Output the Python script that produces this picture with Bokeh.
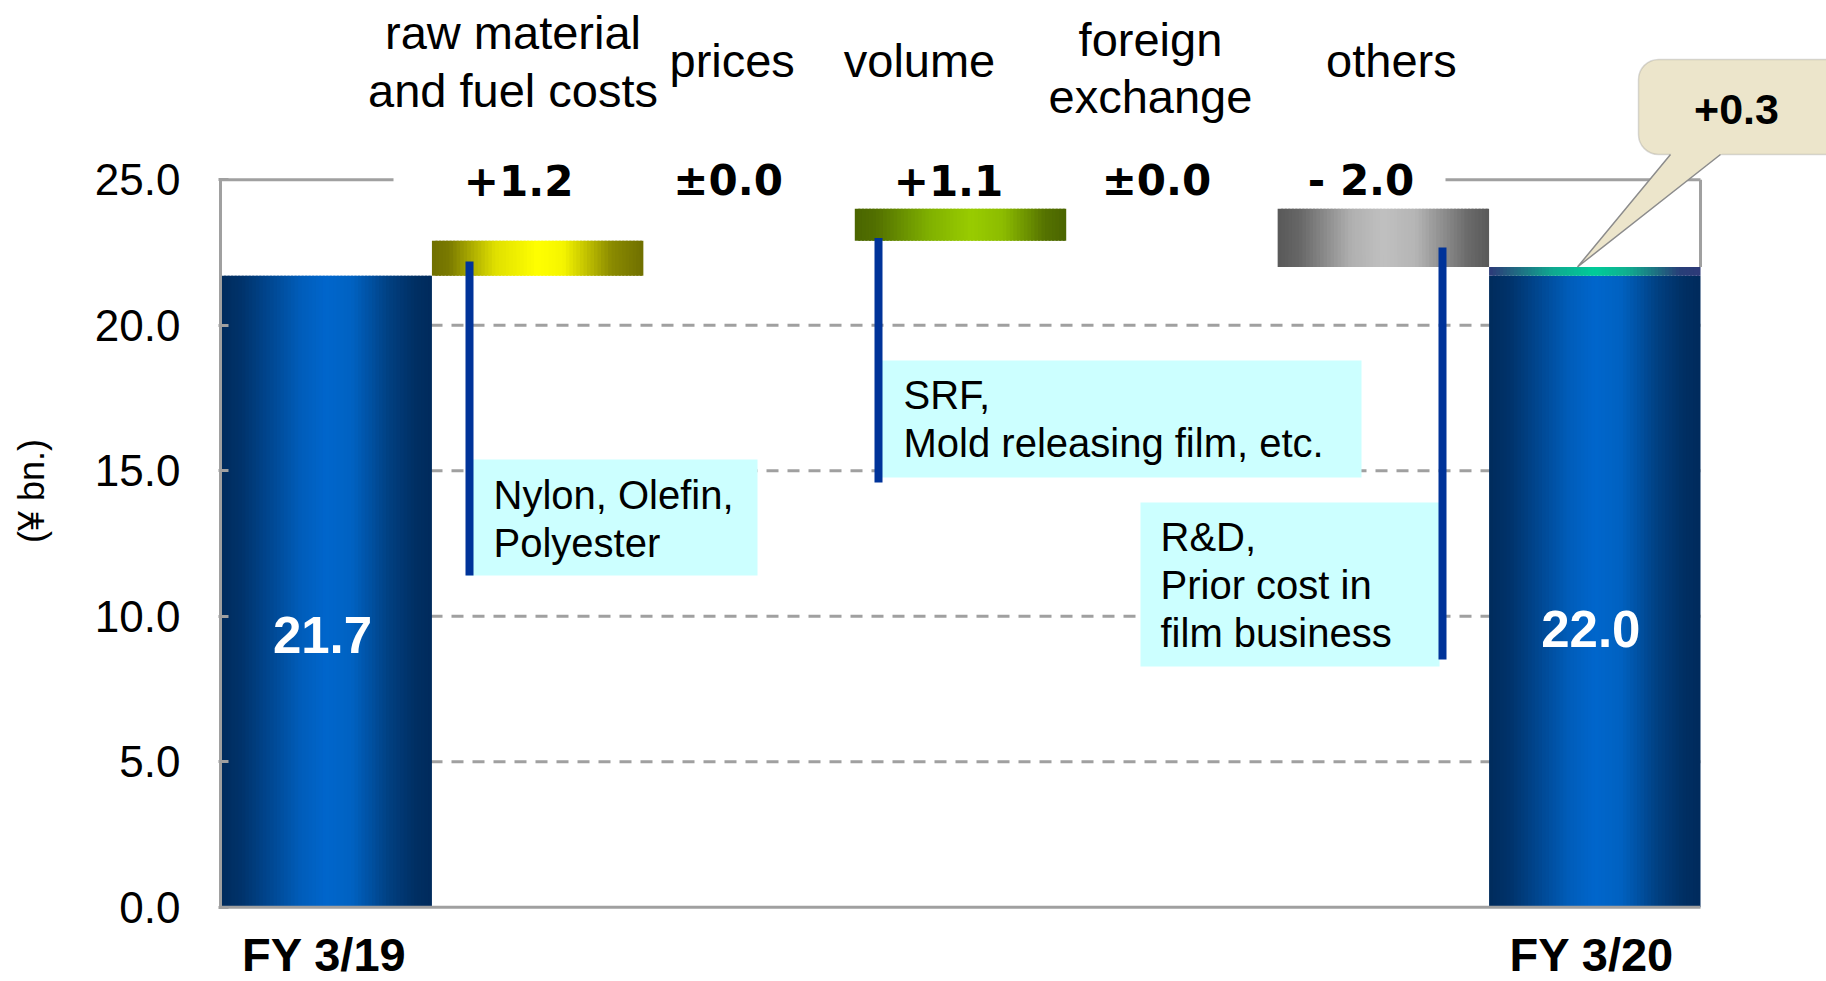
import numpy as np
from bokeh.plotting import figure
from bokeh.models import Range1d, FixedTicker, NumeralTickFormatter, ColumnDataSource, BoxAnnotation
from bokeh.core.properties import value
from bokeh.embed import file_html
from bokeh.resources import INLINE

# ---------------- data ----------------
categories = ["FY 3/19", "raw material\nand fuel costs", "prices", "volume",
              "foreign\nexchange", "others", "FY 3/20"]
start_value = 21.7
deltas = [1.2, 0.0, 1.1, 0.0, -2.0]          # raw material, prices, volume, FX, others
end_value = 22.0
notes = ["Nylon, Olefin,\nPolyester",
         "SRF,\nMold releasing film, etc.",
         "R&D,\nPrior cost in\nfilm business"]
note_slots = [1, 3, 5]
y_ticks = [0.0, 5.0, 10.0, 15.0, 20.0, 25.0]
y_label = "(¥ bn.)"

# ---------------- layout / style ----------------
W, H = 1826, 981
X0, PXX = 220.0, 211.43      # page px of x=0, px per slot
Y0, PXY = 906.7, 29.1        # page px of y=0, px per unit
BASELINE_FIX = 0.35          # em correction of the rendered text baseline


def dx(px):
    return (px - X0) / PXX


def dy(py):
    return (Y0 - py) / PXY


FONT = value("Liberation Sans")
GRID = "#a0a0a0"

BLUE = [(0.0, "#002b5c"), (0.1, "#00336b"), (0.38, "#005dba"), (0.5, "#0066cc"),
        (0.62, "#0062c2"), (0.8, "#013f80"), (0.92, "#002f63"), (1.0, "#002b5c")]
YELLOW = [(0.0, "#707000"), (0.08, "#7a7a00"), (0.3, "#e0e000"), (0.5, "#ffff00"),
          (0.62, "#f5f500"), (0.85, "#8a8a00"), (1.0, "#707000")]
GREEN = [(0.0, "#4a6500"), (0.1, "#527000"), (0.35, "#80b000"), (0.55, "#99cc00"),
         (0.7, "#8cbc00"), (0.9, "#557200"), (1.0, "#4a6500")]
GRAY = [(0.0, "#595959"), (0.1, "#666666"), (0.35, "#b0b0b0"), (0.5, "#c0c0c0"),
        (0.65, "#b5b5b5"), (0.9, "#6a6a6a"), (1.0, "#595959")]
TEAL = [(0.0, "#2d3a78"), (0.3, "#10a890"), (0.5, "#00cc99"), (0.65, "#10b090"),
        (0.9, "#283f78"), (1.0, "#2d3a78")]
DELTA_STOPS = [YELLOW, GRAY, GREEN, GRAY, GRAY]

top_label_xoff = {1: -24.6, 2: -16.9, 3: -41.0, 4: -21.5, 5: 8.0}
top_label_first_baseline = {1: 48.3, 2: 76.0, 3: 76.0, 4: 55.0, 5: 76.0}
TOP_LINE = 57.7
delta_xoff = [-19.0, -21.0, -12.0, -15.5, -22.3]
DELTA_BASELINE = 195.0

note_left_px = [493, 903, 1160]
note_first_baseline_px = [508.3, 408.3, 550.7]
NOTE_LINE = 47.7
note_box_px = [(466, 757, 459, 575), (881, 1361, 360, 477), (1140, 1439, 502, 666)]
connector_px = [(469, 261, 575), (878, 237.5, 482), (1442, 247, 659)]


def hex_rgb(h):
    h = h.lstrip("#")
    return np.array([int(h[i:i + 2], 16) for i in (0, 2, 4)], dtype=float)


def grad_color(stops, t):
    for (t0, c0), (t1, c1) in zip(stops[:-1], stops[1:]):
        if t0 <= t <= t1:
            f = 0 if t1 == t0 else (t - t0) / (t1 - t0)
            c = hex_rgb(c0) * (1 - f) + hex_rgb(c1) * f
            return "#%02x%02x%02x" % tuple(int(round(v)) for v in c)
    return stops[-1][1]


strips = dict(left=[], right=[], bottom=[], top=[], color=[])


def add_gradient(l, r, b, t, stops, n=60):
    w = (r - l) / n
    for i in range(n):
        strips["left"].append(l + i * w)
        strips["right"].append(min(r, l + (i + 1.6) * w))
        strips["bottom"].append(b)
        strips["top"].append(t)
        strips["color"].append(grad_color(stops, (i + 0.5) / n))


# waterfall geometry from the data
add_gradient(0, 1, 0.0, start_value, BLUE)
level = start_value
for i, d in enumerate(deltas):
    lo, hi = sorted((level, level + d))
    if hi - lo > 1e-9:
        add_gradient(i + 1, i + 2, lo, hi, DELTA_STOPS[i])
    level += d
last = len(categories) - 1
add_gradient(last, last + 1, 0.0, min(start_value, end_value), BLUE)
if abs(end_value - start_value) > 1e-9:
    add_gradient(last, last + 1, min(start_value, end_value), max(start_value, end_value), TEAL)

# ---------------- figure ----------------
p = figure(width=W, height=H,
           x_range=Range1d(dx(218), dx(W)),
           y_range=Range1d(dy(H), dy(0)),
           output_backend="svg", toolbar_location=None, x_axis_location=None,
           min_border_left=218, min_border_right=0, min_border_top=0, min_border_bottom=0)
p.outline_line_color = None
p.grid.visible = False
p.background_fill_color = "white"
p.border_fill_color = "white"

ax = p.yaxis[0]
ax.ticker = FixedTicker(ticks=y_ticks)
ax.formatter = NumeralTickFormatter(format="0.0")
ax.axis_label = y_label
ax.axis_label_text_font = "Liberation Sans"
ax.axis_label_text_font_size = "36px"
ax.axis_label_text_font_style = "normal"
ax.axis_label_text_color = "black"
ax.axis_label_standoff = 40
ax.major_label_text_font = "Liberation Sans"
ax.major_label_text_font_size = "44px"
ax.major_label_text_color = "black"
ax.major_label_standoff = 38
ax.major_tick_in = 10
ax.major_tick_out = 0
ax.major_tick_line_color = GRID
ax.major_tick_line_width = 3
ax.minor_tick_line_color = None
ax.axis_line_color = None

n_slots = len(categories)
inner = y_ticks[1:-1]
p.segment(x0=[0] * len(inner), x1=[n_slots] * len(inner), y0=inner, y1=inner,
          line_color=GRID, line_width=3, line_dash="12 9")

p.quad(source=ColumnDataSource(strips), left="left", right="right", bottom="bottom",
       top="top", fill_color="color", line_color=None)

# frame lines
ytop = y_ticks[-1]
p.segment(x0=[0, 0, 0, dx(1445), n_slots],
          y0=[0, 0, ytop, ytop, end_value],
          x1=[0, n_slots, dx(393), n_slots, n_slots],
          y1=[ytop, 0, ytop, ytop, ytop],
          line_color=GRID, line_width=3)

# note boxes + connectors
p.quad(left=[dx(b[0]) for b in note_box_px], right=[dx(b[1]) for b in note_box_px],
       top=[dy(b[2]) for b in note_box_px], bottom=[dy(b[3]) for b in note_box_px],
       fill_color="#ccffff", line_color=None)
p.segment(x0=[dx(c[0]) for c in connector_px], x1=[dx(c[0]) for c in connector_px],
          y0=[dy(c[1]) for c in connector_px], y1=[dy(c[2]) for c in connector_px],
          line_color="#003399", line_width=8)

# callout for total change
BEIGE = "#ece5cb"
callout = BoxAnnotation(left=dx(1638), right=dx(1860), top=dy(59), bottom=dy(154),
                        fill_color=BEIGE, fill_alpha=1.0, line_color="#8c8c8c",
                        line_width=1.5, border_radius=20, level="underlay")
p.add_layout(callout)
tip_x = dx(1577)
p.patch(x=[dx(1672.5), tip_x, dx(1723.8)], y=[dy(151), end_value, dy(151)],
        fill_color=BEIGE, line_color=None)
p.line(x=[dx(1670), tip_x, dx(1720)], y=[dy(154), end_value, dy(154)],
       line_color="#8c8c8c", line_width=1.5)


# ---------------- texts ----------------
def txt(xs, ys, texts, size, bold=False, color="black", align="left", xoff=0, yoff=0,
        font=FONT):
    yo = np.atleast_1d(np.asarray(yoff, dtype=float)) - BASELINE_FIX * size
    if len(yo) == 1:
        yo = [float(yo[0])] * len(texts)
    p.text(x=xs, y=ys, text=texts, text_font=font, text_font_size=value("%dpx" % size),
           text_font_style="bold" if bold else "normal", text_color=color,
           text_align=align, text_baseline="alphabetic", x_offset=xoff, y_offset=list(yo))


def fmt_delta(v):
    if abs(v) < 1e-9:
        return "±%.1f" % abs(v)
    return ("+%.1f" % v) if v > 0 else ("- %.1f" % abs(v))


# category labels at top
for i in range(1, n_slots - 1):
    lines = categories[i].split("\n")
    ys = [dy(top_label_first_baseline[i] + k * TOP_LINE) for k in range(len(lines))]
    txt([i + 0.5] * len(lines), ys, lines, 47, align="center",
        xoff=top_label_xoff[i])

# delta values
txt([i + 1.5 for i in range(len(deltas))], [dy(DELTA_BASELINE)] * len(deltas),
    [fmt_delta(d) for d in deltas], 42, bold=True, align="center", xoff=delta_xoff,
    font=value("DejaVu Sans"))

# bar totals
txt([0.5, last + 0.5], [start_value / 2, end_value / 2],
    ["%.1f" % start_value, "%.1f" % end_value], 51, bold=True, color="white",
    align="center", xoff=[-3.7, -4.0], yoff=[61.7, 60.0])

# bottom category labels (kept just inside the bottom edge)
txt([0.5, last + 0.5], [dy(970)] * 2, [categories[0], categories[-1]], 47,
    bold=True, align="center", xoff=[-2.0, -3.0])

# notes
for k, note in enumerate(notes):
    lines = note.split("\n")
    ys = [dy(note_first_baseline_px[k] + j * NOTE_LINE) for j in range(len(lines))]
    txt([dx(note_left_px[k])] * len(lines), ys, lines, 40)

# callout text
txt([dx(1736)], [dy(124)], [fmt_delta(end_value - start_value)], 43, bold=True,
    align="center")

with open("out.html", "w", encoding="utf-8") as f:
    f.write(file_html(p, INLINE))
